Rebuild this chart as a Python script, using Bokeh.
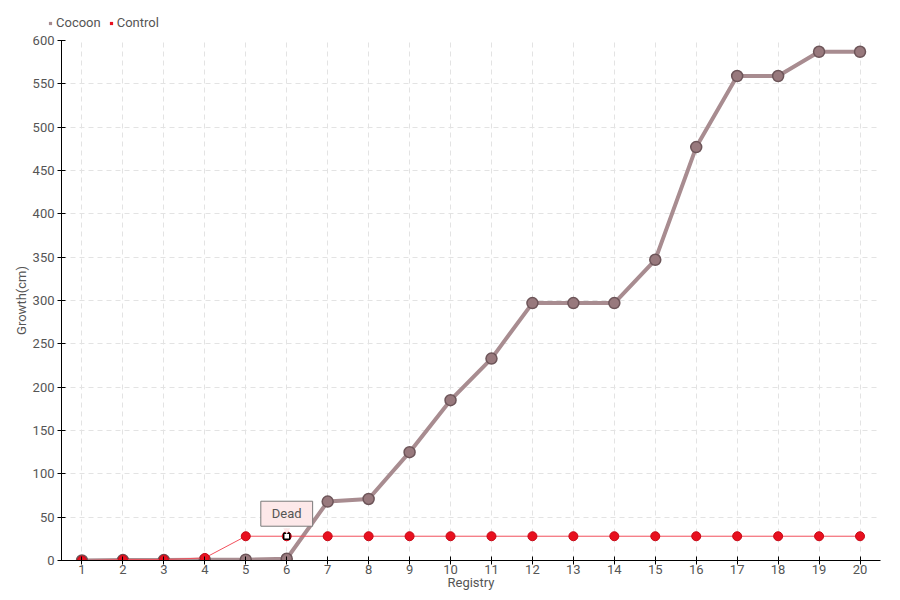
from bokeh.plotting import figure
from bokeh.layouts import column
from bokeh.models import Legend, LegendItem, Label, FixedTicker, Range1d
from bokeh.embed import file_html
from bokeh.resources import INLINE

registry = list(range(1, 21))
cocoon = [0, 0.5, 0.5, 1, 1, 2, 68, 71, 125, 185, 233, 297, 297, 297, 347, 477, 559, 559, 587, 587]
control = [0, 1, 1, 3, 28, 28, 28, 28, 28, 28, 28, 28, 28, 28, 28, 28, 28, 28, 28, 28]
y_ticks = list(range(0, 601, 50))
dead_index = 6

FONT = "Roboto"
TXT = "#555555"
NAN = float("nan")
COCOON_C = "#a88c90"
CONTROL_C = "#e8101f"

p = figure(width=900, height=568, output_backend="svg", toolbar_location=None,
           x_range=Range1d(0.5, 20.5), y_range=Range1d(0, 600),
           min_border_left=61, min_border_right=20, min_border_top=8, min_border_bottom=40)
p.outline_line_color = None

p.xaxis.ticker = FixedTicker(ticks=registry)
p.yaxis.ticker = FixedTicker(ticks=y_ticks)
for ax in (p.xaxis[0], p.yaxis[0]):
    ax.axis_line_color = "black"
    ax.major_tick_line_color = "black"
    ax.major_tick_in = 4
    ax.major_tick_out = 4
    ax.minor_tick_line_color = None
    ax.major_label_text_font = FONT
    ax.major_label_text_color = TXT
    ax.major_label_text_font_size = "13px"
    ax.axis_label_text_font = FONT
    ax.axis_label_text_color = TXT
    ax.axis_label_text_font_size = "13px"
    ax.axis_label_text_font_style = "normal"
p.xaxis.axis_label = "Registry"
p.yaxis.axis_label = "Growth(cm)"
p.xaxis.major_label_standoff = 0
p.xaxis.axis_label_standoff = -2
p.yaxis.major_label_standoff = 3
p.yaxis.axis_label_standoff = 1

for g in (p.xgrid[0], p.ygrid[0]):
    g.grid_line_color = "#e3e3e3"
    g.grid_line_dash = "5 4"
    g.grid_line_width = 1
p.xgrid.ticker = FixedTicker(ticks=registry)
p.ygrid.ticker = FixedTicker(ticks=y_ticks)

# Cocoon
p.line(registry, cocoon, line_color=COCOON_C, line_width=4)
p.scatter(registry, cocoon, size=11, fill_color="#98797d", line_color="#6d5559", line_width=1.5)

# Control
p.line(registry, control, line_color="#f2505c", line_width=1)
p.scatter(registry, control, size=9, fill_color=CONTROL_C, line_color="#c80a18", line_width=1)

# Dead annotation
dx = registry[dead_index - 1]
dy = control[dead_index - 1]
p.scatter([dx], [dy], marker="square", size=6, fill_color="white", line_color="black", line_width=1.5)
lab = Label(x=dx, y=dy, text="Dead", x_offset=0, y_offset=10, text_align="center",
            text_baseline="bottom", text_font=FONT, text_font_size="13px", text_color=TXT,
            background_fill_color="#fde8e9", border_line_color="#7a7a7a", border_line_width=1,
            padding=(11, 5))
p.add_layout(lab)
p.scatter([dx], [dy + 7], marker="inverted_triangle", size=7, fill_color="#fde8e9",
          line_color=None)

# Legend in a small strip above
lf = figure(width=900, height=32, output_backend="svg", toolbar_location=None,
            x_axis_type=None, y_axis_type=None, x_range=Range1d(0, 1), y_range=Range1d(0, 1),
            min_border_left=0, min_border_right=0, min_border_top=0, min_border_bottom=0,
            frame_align=False)
lf.outline_line_color = None
lf.xgrid.visible = False
lf.ygrid.visible = False
r1 = lf.scatter([NAN], [NAN], marker="square", size=10, fill_color=COCOON_C, line_color=None)
r2 = lf.scatter([NAN], [NAN], marker="square", size=10, fill_color=CONTROL_C, line_color=None)
legend = Legend(items=[LegendItem(label="Cocoon", renderers=[r1]),
                       LegendItem(label="Control", renderers=[r2])],
                orientation="horizontal", location=(46, 2),
                label_text_font=FONT, label_text_color=TXT, label_text_font_size="13px",
                label_height=14, glyph_width=8, glyph_height=8, label_standoff=2, spacing=6,
                padding=2, margin=0, border_line_color=None, background_fill_alpha=0)
lf.add_layout(legend, "center")

layout = column(lf, p, spacing=0)
open("out.html", "w").write(file_html(layout, INLINE))
